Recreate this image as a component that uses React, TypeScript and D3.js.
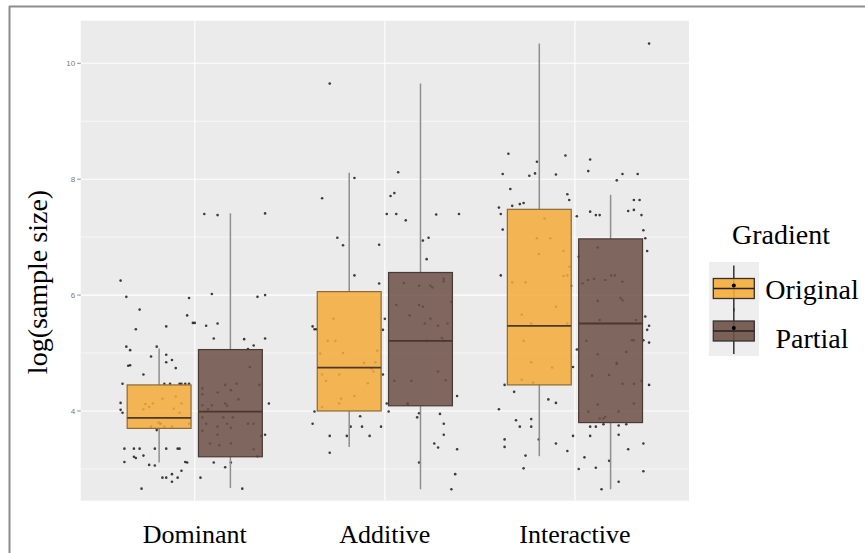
import React from 'react';
import { scaleLinear } from 'd3';

// categories and fill groups
const categories = ['Dominant', 'Additive', 'Interactive'];
const groups = ['Original', 'Partial'];
const groupColors = ['#F5AC3A', '#6E5047'];
const groupStroke = ['#8A6A34', '#4A3A34'];

// five-number summaries [lower, q1, median, q3, upper] per category
const originalStats = [
  [3.11, 3.7, 3.88, 4.45, 5.08],
  [3.38, 4.0, 4.75, 6.06, 8.11],
  [3.22, 4.45, 5.47, 7.48, 10.34],
];
const partialStats = [
  [2.67, 3.21, 3.99, 5.06, 7.41],
  [2.65, 4.09, 5.21, 6.39, 9.65],
  [2.65, 3.8, 5.51, 6.97, 7.73],
];

// jittered observations: [x jitter (category units), log(sample size)]
const dominantPoints = [
  [-0.39, 6.25], [-0.36, 5.97], [-0.29, 5.75], [-0.31, 5.41], [-0.36, 5.11], [-0.34, 5.05],
  [-0.35, 4.78], [-0.34, 4.79], [-0.27, 4.63], [-0.2, 5.11], [-0.23, 4.94], [-0.15, 4.97],
  [-0.15, 4.84], [-0.12, 4.88], [-0.1, 4.74], [-0.15, 5.46], [-0.03, 5.95], [-0.04, 5.65],
  [-0.01, 5.52], [0.0, 5.52], [-0.16, 4.47], [-0.13, 4.47], [-0.08, 4.47], [-0.07, 4.47],
  [-0.05, 4.47], [-0.03, 4.47], [-0.38, 4.47], [-0.39, 4.14], [-0.39, 4.02], [-0.38, 3.97],
  [-0.26, 4.12], [-0.24, 4.07], [-0.22, 4.13], [-0.17, 4.21], [-0.11, 4.04], [-0.1, 4.25],
  [-0.07, 4.13], [-0.08, 3.97], [-0.27, 4.03], [-0.19, 3.8], [-0.18, 3.78], [-0.18, 3.78],
  [-0.23, 3.73], [-0.16, 3.73], [-0.12, 3.73], [-0.03, 3.78], [-0.2, 3.67], [-0.37, 3.35],
  [-0.32, 3.35], [-0.29, 3.35], [-0.21, 3.35], [-0.15, 3.35], [-0.09, 3.35], [-0.08, 3.35],
  [-0.37, 3.12], [-0.32, 3.21], [-0.31, 3.19], [-0.27, 3.23], [-0.24, 3.07], [-0.21, 3.06],
  [-0.05, 3.12], [-0.07, 2.97], [-0.17, 2.85], [-0.15, 2.85], [-0.12, 2.91], [-0.12, 2.78],
  [-0.09, 2.85], [-0.28, 2.66], [-0.04, 3.11],
  [0.06, 5.47], [0.12, 5.51], [0.1, 5.25], [0.26, 5.24], [0.31, 5.13], [0.37, 5.25],
  [0.28, 5.07], [0.09, 6.02], [0.04, 4.39], [0.04, 4.29], [0.12, 4.32], [0.16, 4.45],
  [0.19, 4.36], [0.22, 4.47], [0.23, 4.2], [0.29, 4.76], [0.34, 4.45], [0.04, 4.1],
  [0.09, 4.1], [0.07, 4.03], [0.16, 4.13], [0.17, 4.09], [0.39, 4.13], [0.04, 3.89],
  [0.15, 3.89], [0.2, 3.89], [0.06, 3.78], [0.12, 3.73], [0.17, 3.78], [0.19, 3.71],
  [0.28, 3.78], [0.31, 3.78], [0.04, 3.66], [0.12, 3.59], [0.35, 3.57], [0.37, 3.59],
  [0.08, 3.44], [0.13, 3.41], [0.19, 3.44], [0.31, 3.34], [0.33, 3.22], [0.1, 3.11],
  [0.16, 3.03], [0.19, 3.11], [0.03, 2.85], [0.25, 2.66], [0.05, 7.4], [0.12, 7.38],
  [0.37, 7.41], [0.33, 5.97], [0.37, 6.0],
];
const additivePoints = [
  [-0.29, 9.65], [-0.16, 8.02], [-0.33, 7.67], [-0.25, 6.99], [-0.22, 6.86], [-0.03, 6.87],
  [-0.16, 6.34], [-0.03, 6.2], [-0.27, 5.59], [-0.38, 5.46], [-0.37, 5.41], [-0.36, 5.41],
  [0.0, 5.59], [-0.01, 5.4], [-0.3, 5.21], [-0.26, 5.21], [-0.34, 4.99], [-0.22, 5.0],
  [-0.04, 5.04], [-0.11, 4.83], [-0.05, 4.84], [-0.07, 4.73], [-0.06, 4.68], [-0.01, 4.63],
  [-0.33, 4.63], [-0.31, 4.52], [-0.24, 4.63], [-0.09, 4.48], [-0.16, 4.26], [-0.23, 4.21],
  [-0.24, 4.13], [-0.33, 4.07], [-0.37, 3.99], [-0.38, 3.78], [-0.13, 3.91], [-0.18, 3.73],
  [-0.12, 3.73], [-0.02, 3.73], [-0.29, 3.57], [-0.2, 3.57], [-0.08, 3.57], [-0.29, 3.28],
  [0.07, 8.12], [0.03, 7.71], [0.05, 7.76], [0.01, 7.4], [0.06, 7.4], [0.11, 7.29],
  [0.27, 7.39], [0.39, 7.4], [0.2, 6.94], [0.23, 6.99], [0.22, 6.62], [0.1, 6.21],
  [0.18, 6.16], [0.24, 6.16], [0.25, 6.13], [0.31, 6.28], [0.31, 6.24], [0.06, 5.83],
  [0.18, 5.83], [0.2, 5.8], [0.35, 5.88], [0.13, 5.65], [0.21, 5.51], [0.24, 5.59],
  [0.28, 5.47], [0.33, 5.51], [0.3, 5.26], [0.31, 5.21], [0.22, 5.21], [0.28, 4.68],
  [0.05, 4.52], [0.14, 4.52], [0.32, 4.53], [0.12, 4.13], [0.12, 4.12], [0.01, 4.13],
  [0.38, 4.26], [0.02, 3.99], [0.18, 3.96], [0.17, 3.89], [0.29, 3.95], [0.31, 3.78],
  [0.31, 3.59], [0.26, 3.44], [0.28, 3.37], [0.38, 3.34], [0.18, 3.11], [0.37, 2.91],
  [0.35, 2.65],
];
const interactivePoints = [
  [-0.35, 8.44], [-0.38, 8.09], [-0.24, 8.06], [-0.21, 8.1], [-0.2, 8.3], [-0.1, 8.08],
  [-0.05, 8.41], [-0.34, 7.83], [-0.04, 7.74], [-0.03, 7.64], [-0.33, 7.54], [-0.29, 7.57],
  [-0.27, 7.59], [-0.4, 7.51], [-0.39, 7.4], [-0.38, 7.13], [-0.16, 7.32], [-0.2, 6.98],
  [-0.13, 6.98], [-0.19, 6.71], [-0.06, 6.76], [-0.03, 6.49], [-0.06, 6.33], [-0.04, 6.34],
  [-0.39, 6.34], [-0.33, 6.22], [-0.26, 6.22], [-0.02, 6.16], [-0.1, 5.8], [-0.28, 5.66],
  [-0.23, 5.51], [-0.04, 5.51], [-0.27, 5.21], [-0.23, 4.84], [-0.12, 4.75], [-0.28, 4.54],
  [-0.22, 4.49], [-0.37, 4.45], [-0.32, 4.33], [-0.4, 4.03], [-0.14, 4.2], [-0.1, 4.14],
  [-0.31, 3.84], [-0.29, 3.73], [-0.23, 3.73], [-0.23, 3.86], [-0.37, 3.51], [-0.37, 3.38],
  [-0.19, 3.51], [-0.1, 3.44], [-0.04, 3.31], [-0.26, 3.23], [-0.27, 3.01],
  [0.39, 10.34], [0.08, 8.34], [0.07, 8.14], [0.22, 7.98], [0.25, 8.09], [0.33, 8.09],
  [0.31, 7.64], [0.34, 7.64], [0.28, 7.45], [0.31, 7.47], [0.35, 7.38], [0.08, 7.44],
  [0.11, 7.38], [0.13, 7.38], [0.01, 7.36], [0.36, 7.12], [0.37, 6.98], [0.38, 6.76],
  [0.12, 6.82], [0.02, 6.66], [0.19, 6.34], [0.21, 6.34], [0.1, 6.28], [0.07, 6.26],
  [0.16, 6.26], [0.04, 6.2], [0.25, 6.23], [0.12, 5.9], [0.24, 5.95], [0.25, 5.91],
  [0.13, 5.57], [0.32, 5.57], [0.37, 5.63], [0.39, 5.47], [0.38, 5.4], [0.39, 5.18],
  [0.31, 5.22], [0.3, 5.22], [0.36, 5.22], [0.06, 5.21], [0.27, 5.02], [0.12, 4.98],
  [0.22, 4.83], [0.22, 4.81], [0.01, 5.06], [-0.01, 4.76], [0.09, 4.61], [0.18, 4.62],
  [0.25, 4.47], [0.31, 4.47], [0.35, 4.52], [0.39, 4.45], [0.31, 4.13], [0.12, 4.11],
  [0.07, 3.99], [0.23, 3.99], [0.13, 3.87], [0.15, 3.87], [0.16, 3.9], [0.08, 3.73],
  [0.11, 3.73], [0.15, 3.77], [0.23, 3.75], [0.27, 3.77], [0.23, 3.59], [0.08, 3.57],
  [-0.01, 3.57], [0.36, 3.44], [0.28, 3.34], [0.05, 3.2], [0.18, 3.14], [0.02, 3.0],
  [0.11, 3.02], [0.36, 2.96], [0.23, 2.78], [0.14, 2.65],
];

const yMajor = [4, 6, 8, 10];
const yMinor = [3, 5, 7, 9];

const W = 865;
const H = 553;
const panel = { left: 80.7, right: 689, top: 20.7, bottom: 500.7 };
const serif = '"Liberation Serif", "Times New Roman", serif';

export default function App() {
  const x = scaleLinear().domain([0.4, 3.6]).range([panel.left, panel.right]);
  const y = scaleLinear().domain([2.452, 10.735]).range([panel.bottom, panel.top]);
  const unit = x(1) - x(0);
  const dodge = 0.1875;
  const halfBox = 0.168;

  const stats = [originalStats, partialStats];
  const points = [dominantPoints, additivePoints, interactivePoints];

  return (
    <svg width={W} height={H} style={{ position: 'absolute', left: 0, top: 0, background: '#fff' }}>
      {/* frame */}
      <line x1={9} x2={W} y1={6.5} y2={6.5} stroke="#8c8c8c" strokeWidth={2} />
      <line x1={9.5} x2={9.5} y1={6} y2={H} stroke="#8c8c8c" strokeWidth={2} />

      {/* panel */}
      <rect x={panel.left} y={panel.top} width={panel.right - panel.left}
        height={panel.bottom - panel.top} fill="#EBEBEB" />
      {yMinor.map(v => (
        <line key={'mi' + v} x1={panel.left} x2={panel.right} y1={y(v)} y2={y(v)}
          stroke="#fff" strokeWidth={0.6} />
      ))}
      {yMajor.map(v => (
        <line key={'ma' + v} x1={panel.left} x2={panel.right} y1={y(v)} y2={y(v)}
          stroke="#fff" strokeWidth={1.1} />
      ))}
      {categories.map((c, i) => (
        <line key={'vx' + c} x1={x(i + 1)} x2={x(i + 1)} y1={panel.top} y2={panel.bottom}
          stroke="#fff" strokeWidth={1.1} />
      ))}

      {/* jittered points */}
      {points.map((pts, i) => pts.map(([j, v], k) => (
        <circle key={`p${i}-${k}`} cx={x(i + 1 + j)} cy={y(v)} r={1.3} fill="#000" opacity={0.75} />
      )))}

      {/* boxes */}
      {stats.map((gs, g) => gs.map(([lo, q1, med, q3, hi], i) => {
        const cx = x(i + 1 + (g === 0 ? -dodge : dodge));
        const hw = halfBox * unit;
        return (
          <g key={`b${g}-${i}`}>
            <line x1={cx} x2={cx} y1={y(hi)} y2={y(q3)} stroke="#8e8e8e" strokeWidth={1.5} />
            <line x1={cx} x2={cx} y1={y(q1)} y2={y(lo)} stroke="#8e8e8e" strokeWidth={1.5} />
            <rect x={cx - hw} y={y(q3)} width={2 * hw} height={y(q1) - y(q3)}
              fill={groupColors[g]} fillOpacity={0.86} stroke={groupStroke[g]} strokeWidth={1.2} />
            <line x1={cx - hw} x2={cx + hw} y1={y(med)} y2={y(med)} stroke="#4a3828" strokeWidth={1.8} />
          </g>
        );
      }))}

      {/* y axis */}
      {yMajor.map(v => (
        <g key={'t' + v}>
          <line x1={panel.left - 3.5} x2={panel.left} y1={y(v)} y2={y(v)} stroke="#8a8a8a" strokeWidth={1} />
          <text x={panel.left - 5.5} y={y(v)} dy="0.35em" textAnchor="end" fontSize={8}
            fontFamily='"Liberation Sans", Arial, sans-serif' fill="#7a7a7a">{v}</text>
        </g>
      ))}
      <text transform="translate(47,282) rotate(-90)" textAnchor="middle" fontSize={28}
        fontFamily={serif} fill="#000">log(sample size)</text>

      {/* x axis labels */}
      {categories.map((c, i) => (
        <text key={'xl' + c} x={x(i + 1)} y={543} textAnchor="middle" fontSize={26}
          fontFamily={serif} fill="#000">{c}</text>
      ))}

      {/* legend */}
      <text x={781} y={244} textAnchor="middle" fontSize={28} fontFamily={serif} fill="#000">Gradient</text>
      <rect x={709} y={262} width={50} height={94} fill="#EEEEEE" />
      {groups.map((gname, g) => {
        const cy = g === 0 ? 288.5 : 331;
        const cx = 733.8;
        return (
          <g key={'lg' + gname}>
            <line x1={cx} x2={cx} y1={cy - 23} y2={cy + 23} stroke="#333" strokeWidth={1.5} />
            <rect x={cx - 20.5} y={cy - 10} width={41} height={20} fill={groupColors[g]}
              fillOpacity={0.9} stroke="#333" strokeWidth={1.3} />
            <line x1={cx - 20.5} x2={cx + 20.5} y1={cy} y2={cy} stroke="#222" strokeWidth={1.6} />
            <circle cx={cx} cy={cy - 3} r={2} fill="#000" />
            <text x={812} y={g === 0 ? 299 : 348} textAnchor="middle" fontSize={28}
              fontFamily={serif} fill="#000">{gname}</text>
          </g>
        );
      })}
    </svg>
  );
}
